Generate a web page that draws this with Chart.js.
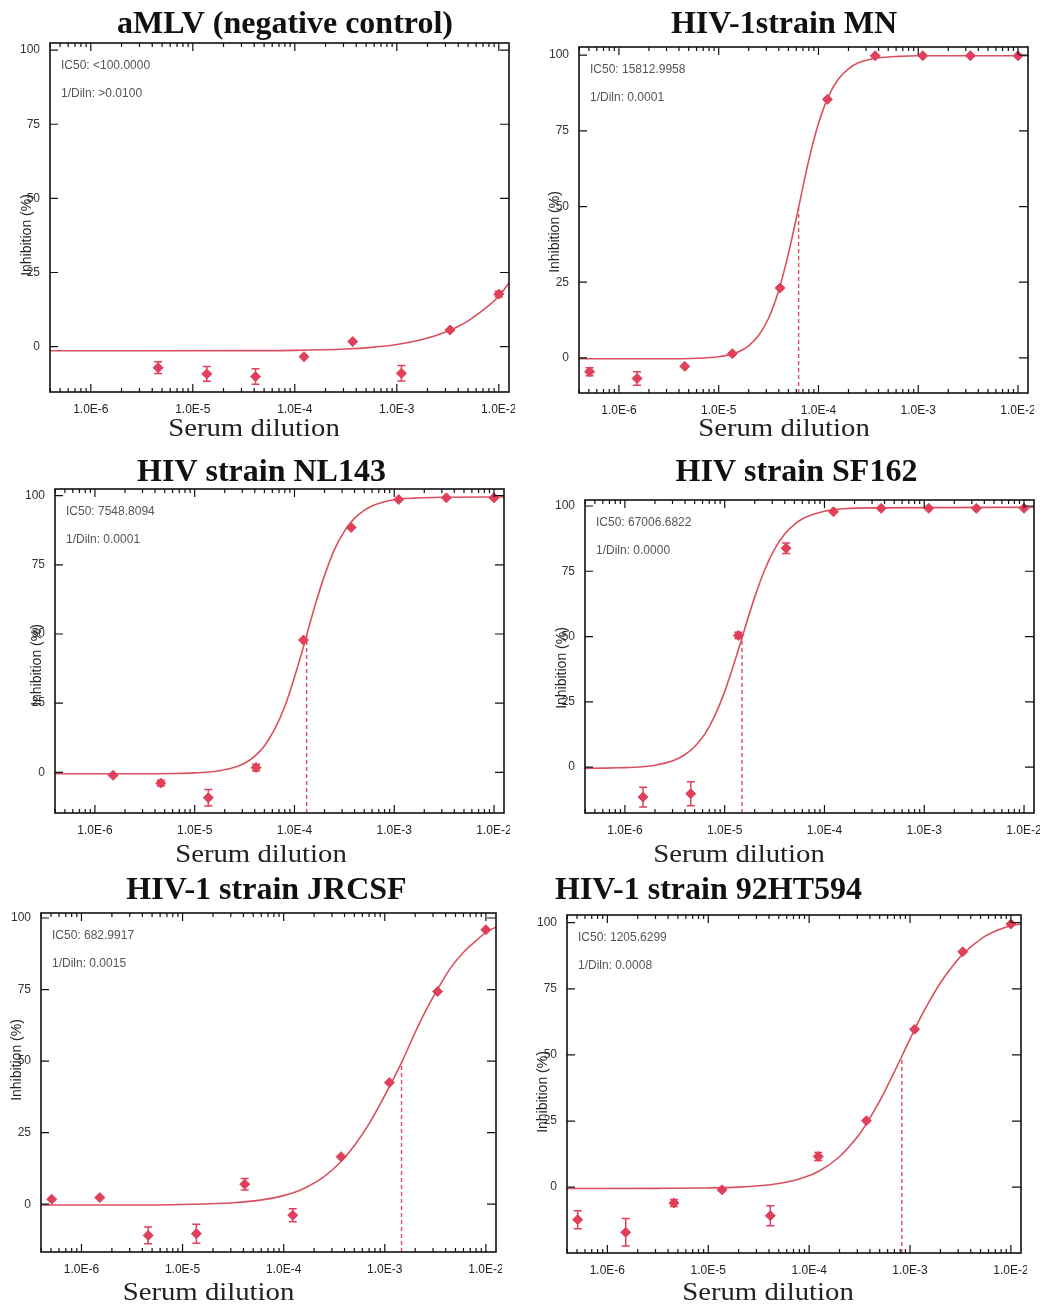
<!DOCTYPE html>
<html>
<head>
<meta charset="utf-8">
<script src="https://cdn.jsdelivr.net/npm/chart.js@4.4.1/dist/chart.umd.min.js"></script>
<style>
  html, body { margin: 0; padding: 0; background: #fff; }
  body { width: 1043px; height: 1306px; position: relative; overflow: hidden; }
  canvas { position: absolute; }
</style>
</head>
<body>
<script>
// Serial three-fold serum dilutions (fraction of serum in the well)
const dilutions = [5.08e-7, 1.52e-6, 4.57e-6, 1.37e-5, 4.12e-5, 1.23e-4, 3.70e-4, 1.11e-3, 3.33e-3, 1.0e-2];

const titles = ['aMLV (negative control)', 'HIV-1strain MN', 'HIV strain NL143',
                'HIV strain SF162', 'HIV-1 strain JRCSF', 'HIV-1 strain 92HT594'];

// Mean inhibition (%) and SD at each dilution (null = not tested)
const inhibAMLV = [null, null, -7.1, -9.2, -10.1, -3.4, 1.7, -9.0, 5.6, 17.7];
const sdAMLV    = [null, null, 2.0, 2.5, 2.6, 0.8, 0.8, 2.6, 0.8, 1.0];
const inhibMN   = [-4.6, -6.8, -2.8, 1.4, 23.1, 85.4, 99.8, 99.8, 99.8, 99.8];
const sdMN      = [1.3, 2.2, 0.8, 0.8, 0.8, 0.8, 0.5, 0.5, 0.5, 0.5];
const inhibNL43 = [null, -1.1, -3.9, -9.2, 1.7, 47.8, 88.5, 98.6, 99.2, 99.2];
const sdNL43    = [null, 0.5, 1.0, 3.0, 1.2, 0.6, 0.8, 0.5, 0.5, 0.5];
const inhibSF162 = [null, -11.5, -10.2, 50.4, 83.8, 97.8, 99.1, 99.1, 99.1, 99.1];
const sdSF162    = [null, 3.8, 4.6, 1.2, 2.0, 0.6, 0.5, 0.5, 0.5, 0.5];
const inhibJRCSF = [1.75, 2.3, -10.9, -10.3, 7.0, -3.85, 16.6, 42.5, 74.3, 95.9];
const sdJRCSF    = [0.6, 0.6, 2.9, 3.3, 2.0, 2.3, 0.8, 0.6, 0.6, 0.6];
const inhib92HT  = [-12.3, -17.1, -6.0, -1.0, -10.8, 11.6, 25.1, 59.7, 89.0, 99.5];
const sd92HT     = [3.4, 5.2, 1.3, 0.5, 3.8, 1.5, 0.6, 0.6, 0.6, 0.5];

// Fitted dose-response curves: log10(dilution) and inhibition (%)
const fitLogAMLV = [-6.4, -5.5, -4.5, -4, -3.5, -3.25, -3, -2.75, -2.5, -2.4, -2.3, -2.2, -2.1, -2, -1.9];
const fitAMLV    = [-1.4, -1.4, -1.35, -1.25, -0.8, -0.25, 0.7, 2.4, 5.2, 6.8, 8.7, 11.1, 13.8, 17.0, 21.5];
const fitLogMN = [-6.4, -5.6, -5.2, -5.0, -4.9, -4.8, -4.7, -4.6, -4.5, -4.4, -4.3, -4.199, -4.1, -4.0, -3.9, -3.8, -3.7, -3.6, -3.5, -3.4, -3.2, -3.0, -1.9];
const fitMN    = [-0.3, -0.3, -0.1, 0.4, 1.0, 2.0, 4.0, 7.4, 13.1, 22.1, 34.6, 49.7, 64.9, 77.4, 86.4, 92.1, 95.5, 97.5, 98.5, 99.1, 99.6, 99.8, 99.8];
const fitLogNL43 = [-6.4, -5.6, -5.2, -5.0, -4.8, -4.7, -4.6, -4.5, -4.4, -4.3, -4.2, -4.1, -4.0, -3.9, -3.878, -3.8, -3.7, -3.6, -3.5, -3.4, -3.3, -3.2, -3.0, -2.8, -2.5, -1.9];
const fitNL43    = [-0.5, -0.5, -0.4, -0.2, 0.3, 0.9, 1.8, 3.3, 5.8, 9.6, 15.5, 23.5, 34.4, 46.6, 49.5, 59.6, 71.0, 80.5, 87.1, 91.8, 94.7, 96.6, 98.5, 99.1, 99.4, 99.5];
const fitLogSF162 = [-6.4, -6.2, -6.0, -5.9, -5.8, -5.7, -5.6, -5.5, -5.4, -5.3, -5.2, -5.1, -5.0, -4.9, -4.826, -4.8, -4.7, -4.6, -4.5, -4.4, -4.3, -4.2, -4.0, -3.8, -3.5, -1.9];
const fitSF162    = [-0.5, -0.4, -0.2, -0.1, 0.2, 0.7, 1.5, 2.7, 4.7, 7.9, 12.6, 19.6, 28.9, 40.4, 49.5, 52.9, 65.0, 75.5, 83.5, 89.2, 93.0, 95.5, 98.0, 98.95, 99.3, 99.5];
const fitLogJRCSF = [-6.4, -5.5, -5.0, -4.5, -4.2, -4.0, -3.8, -3.6, -3.43, -3.3, -3.15, -3.0, -2.834, -2.7, -2.6, -2.48, -2.35, -2.2, -2.1, -2.0, -1.89];
const fitJRCSF    = [-0.3, -0.3, -0.1, 0.5, 1.6, 3.0, 5.5, 9.6, 15.0, 20.5, 28.4, 38.0, 49.5, 60.0, 67.3, 75.0, 82.5, 88.8, 92.0, 95.0, 97.0];
const fitLog92HT = [-6.4, -5.5, -5.0, -4.7, -4.5, -4.3, -4.1, -3.9, -3.7, -3.5, -3.43, -3.3, -3.2, -3.081, -3.0, -2.9, -2.8, -2.7, -2.6, -2.48, -2.35, -2.25, -2.1, -2.0, -1.9];
const fit92HT    = [-0.5, -0.45, -0.3, 0, 0.5, 1.4, 3.1, 6.1, 11.5, 20.1, 24.1, 32.6, 40.1, 49.5, 56.0, 63.8, 70.8, 77.2, 82.5, 88.0, 92.3, 95.0, 97.6, 98.8, 99.5];

// Reported IC50 (reciprocal dilution) and the inhibition at which the curve meets it
const ic50 = [null, 15812.9958, 7548.8094, 67006.6822, 682.9917, 1205.6299];
const ic50Level = [null, 49.7, 49.5, 49.5, 49.5, 49.5];
const ic50Text = ['IC50: <100.0000', 'IC50: 15812.9958', 'IC50: 7548.8094',
                  'IC50: 67006.6822', 'IC50: 682.9917', 'IC50: 1205.6299'];
const dilnText = ['1/Diln: >0.0100', '1/Diln: 0.0001', '1/Diln: 0.0001',
                  '1/Diln: 0.0000', '1/Diln: 0.0015', '1/Diln: 0.0008'];

// Axis ticks
const xTickValues = [1e-6, 1e-5, 1e-4, 1e-3, 1e-2];
const xTickLabels = ['1.0E-6', '1.0E-5', '1.0E-4', '1.0E-3', '1.0E-2'];
const yTickValues = [0, 25, 50, 75, 100];
const xRange = [3.98e-7, 1.259e-2];

const series = [
  { mean: inhibAMLV,  sd: sdAMLV,  fitLog: fitLogAMLV,  fit: fitAMLV },
  { mean: inhibMN,    sd: sdMN,    fitLog: fitLogMN,    fit: fitMN },
  { mean: inhibNL43,  sd: sdNL43,  fitLog: fitLogNL43,  fit: fitNL43 },
  { mean: inhibSF162, sd: sdSF162, fitLog: fitLogSF162, fit: fitSF162 },
  { mean: inhibJRCSF, sd: sdJRCSF, fitLog: fitLogJRCSF, fit: fitJRCSF },
  { mean: inhib92HT,  sd: sd92HT,  fitLog: fitLog92HT,  fit: fit92HT }
];

// Page layout of each panel: canvas box, plot box (l, t, r, b), y range, text anchors
const panels = [
  { canvas: [0, 0, 515, 450],     plot: [50, 43, 512, 392],     y: [-15.3, 102.4], title: [285, 33],    xlab: [254, 436],    ylab: [27, 235] },
  { canvas: [530, 0, 504, 450],   plot: [579, 47, 1029, 393],   y: [-11.6, 102.7], title: [784, 33],    xlab: [784, 436],    ylab: [555, 232] },
  { canvas: [0, 450, 510, 420],   plot: [55, 489, 505, 813],    y: [-14.7, 102.4], title: [261.5, 481], xlab: [261, 862],    ylab: [37, 665] },
  { canvas: [530, 450, 510, 420], plot: [585, 500, 1035, 813],  y: [-17.6, 102.3], title: [796.5, 481], xlab: [739, 862],    ylab: [562, 668] },
  { canvas: [0, 870, 502, 436],   plot: [41, 913, 498, 1252],   y: [-16.7, 101.75],title: [266.5, 899], xlab: [208.5, 1300], ylab: [17, 1060] },
  { canvas: [525, 870, 502, 436], plot: [567, 915, 1022, 1253], y: [-24.9, 102.9], title: [708.5, 899], xlab: [768, 1300],   ylab: [543, 1092] }
];

const RED = '#e0405a';
const CURVE = '#d9505f';
const SANS = "'Liberation Sans', Arial, sans-serif";
const SERIF = "'Liberation Serif', 'Times New Roman', serif";
Chart.defaults.font.family = SANS;

function makePanel(i) {
  const box = panels[i];
  const s = series[i];
  const [cx, cy, cw, ch] = box.canvas;
  const [L, T, R, B] = box.plot;
  const XH = 24;

  const canvas = document.createElement('canvas');
  canvas.width = cw; canvas.height = ch;
  canvas.style.left = cx + 'px'; canvas.style.top = cy + 'px';
  canvas.style.width = cw + 'px'; canvas.style.height = ch + 'px';
  document.body.appendChild(canvas);

  const points = [];
  dilutions.forEach((d, k) => { if (s.mean[k] !== null) points.push({ x: d, y: s.mean[k] }); });
  const curve = s.fitLog.map((e, k) => ({ x: Math.pow(10, e), y: s.fit[k] }));

  const datasets = [
    { data: points, showLine: false, pointStyle: 'rectRot', pointRadius: 5,
      backgroundColor: RED, borderColor: RED, borderWidth: 1 },
    { data: curve, showLine: true, pointRadius: 0, borderColor: CURVE, borderWidth: 1.6,
      cubicInterpolationMode: 'monotone', fill: false }
  ];
  if (ic50[i] !== null) {
    const xd = 1 / ic50[i];
    datasets.push({ data: [{ x: xd, y: box.y[0] }, { x: xd, y: ic50Level[i] }], showLine: true,
      pointRadius: 0, borderColor: CURVE, borderWidth: 1.4, borderDash: [4, 3] });
  }

  const decor = {
    id: 'decor' + i,
    afterDatasetsDraw(chart) {
      const ctx = chart.ctx;
      const xs = chart.scales.x, ys = chart.scales.y;
      const a = chart.chartArea;
      ctx.save();
      // error bars
      ctx.strokeStyle = RED; ctx.lineWidth = 1.5;
      dilutions.forEach((d, k) => {
        if (s.mean[k] === null) return;
        const px = xs.getPixelForValue(d);
        const y1 = ys.getPixelForValue(s.mean[k] - s.sd[k]);
        const y2 = ys.getPixelForValue(s.mean[k] + s.sd[k]);
        if (Math.abs(y1 - y2) < 5) return;
        ctx.beginPath();
        ctx.moveTo(px, y1); ctx.lineTo(px, y2);
        ctx.moveTo(px - 4, y1); ctx.lineTo(px + 4, y1);
        ctx.moveTo(px - 4, y2); ctx.lineTo(px + 4, y2);
        ctx.stroke();
      });
      // frame
      ctx.strokeStyle = '#111'; ctx.lineWidth = 1.6;
      ctx.strokeRect(a.left, a.top, a.right - a.left, a.bottom - a.top);
      // inward tick marks
      ctx.lineWidth = 1.2;
      ctx.beginPath();
      for (let e = -7; e <= -2; e++) {
        for (let m = 1; m <= 9; m++) {
          const v = m * Math.pow(10, e);
          if (v < xRange[0] || v > xRange[1]) continue;
          const px = xs.getPixelForValue(v);
          const len = m === 1 ? 8 : 4;
          ctx.moveTo(px, a.bottom); ctx.lineTo(px, a.bottom - len);
          ctx.moveTo(px, a.top); ctx.lineTo(px, a.top + len);
        }
      }
      yTickValues.forEach(v => {
        const py = ys.getPixelForValue(v);
        ctx.moveTo(a.left, py); ctx.lineTo(a.left + 8, py);
        ctx.moveTo(a.right, py); ctx.lineTo(a.right - 9, py);
      });
      ctx.stroke();
      ctx.restore();
    },
    afterDraw(chart) {
      const ctx = chart.ctx;
      const a = chart.chartArea;
      ctx.save();
      // fit summary
      ctx.fillStyle = '#555';
      ctx.font = '12px ' + SANS;
      ctx.textBaseline = 'middle';
      ctx.textAlign = 'left';
      ctx.fillText(ic50Text[i], a.left + 11, a.top + 23);
      ctx.fillText(dilnText[i], a.left + 11, a.top + 51);
      // panel title
      ctx.fillStyle = '#111';
      ctx.font = 'bold 32px ' + SERIF;
      ctx.textAlign = 'center';
      ctx.textBaseline = 'alphabetic';
      ctx.fillText(titles[i], box.title[0] - cx, box.title[1] - cy);
      // x axis title (slightly wide serif lettering)
      ctx.save();
      ctx.translate(box.xlab[0] - cx, box.xlab[1] - cy);
      ctx.scale(1.15, 1);
      ctx.font = '25px ' + SERIF;
      ctx.fillStyle = '#222';
      ctx.fillText('Serum dilution', 0, 0);
      ctx.restore();
      // y axis title
      ctx.translate(box.ylab[0] - cx, box.ylab[1] - cy);
      ctx.rotate(-Math.PI / 2);
      ctx.font = '14px ' + SANS;
      ctx.fillStyle = '#222';
      ctx.textBaseline = 'middle';
      ctx.fillText('Inhibition (%)', 0, 0);
      ctx.restore();
    }
  };

  new Chart(canvas, {
    type: 'scatter',
    data: { datasets },
    plugins: [decor],
    options: {
      responsive: false,
      animation: false,
      devicePixelRatio: 1,
      layout: { padding: { left: 0, top: T - cy, right: cx + cw - R, bottom: cy + ch - B - XH } },
      plugins: { legend: { display: false }, tooltip: { enabled: false } },
      scales: {
        x: {
          type: 'logarithmic', min: xRange[0], max: xRange[1], bounds: 'data',
          grid: { display: false }, border: { display: false },
          afterBuildTicks: sc => { sc.ticks = xTickValues.map(v => ({ value: v })); },
          afterFit: sc => { sc.height = XH; sc.paddingLeft = 0; sc.paddingRight = 0; },
          ticks: {
            autoSkip: false, maxRotation: 0, padding: 2, color: '#222',
            font: { size: 12, family: SANS },
            callback: (v) => { const k = xTickValues.findIndex(t => Math.abs(t - v) / t < 1e-6); return k >= 0 ? xTickLabels[k] : ''; }
          }
        },
        y: {
          type: 'linear', min: box.y[0], max: box.y[1], bounds: 'data',
          grid: { display: false }, border: { display: false },
          afterBuildTicks: sc => { sc.ticks = yTickValues.map(v => ({ value: v })); },
          afterFit: sc => { sc.width = L - cx; sc.paddingTop = 0; sc.paddingBottom = 0; },
          ticks: { padding: 2, color: '#333', font: { size: 12, family: SANS } }
        }
      }
    }
  });
}

for (let i = 0; i < panels.length; i++) makePanel(i);
</script>
</body>
</html>
